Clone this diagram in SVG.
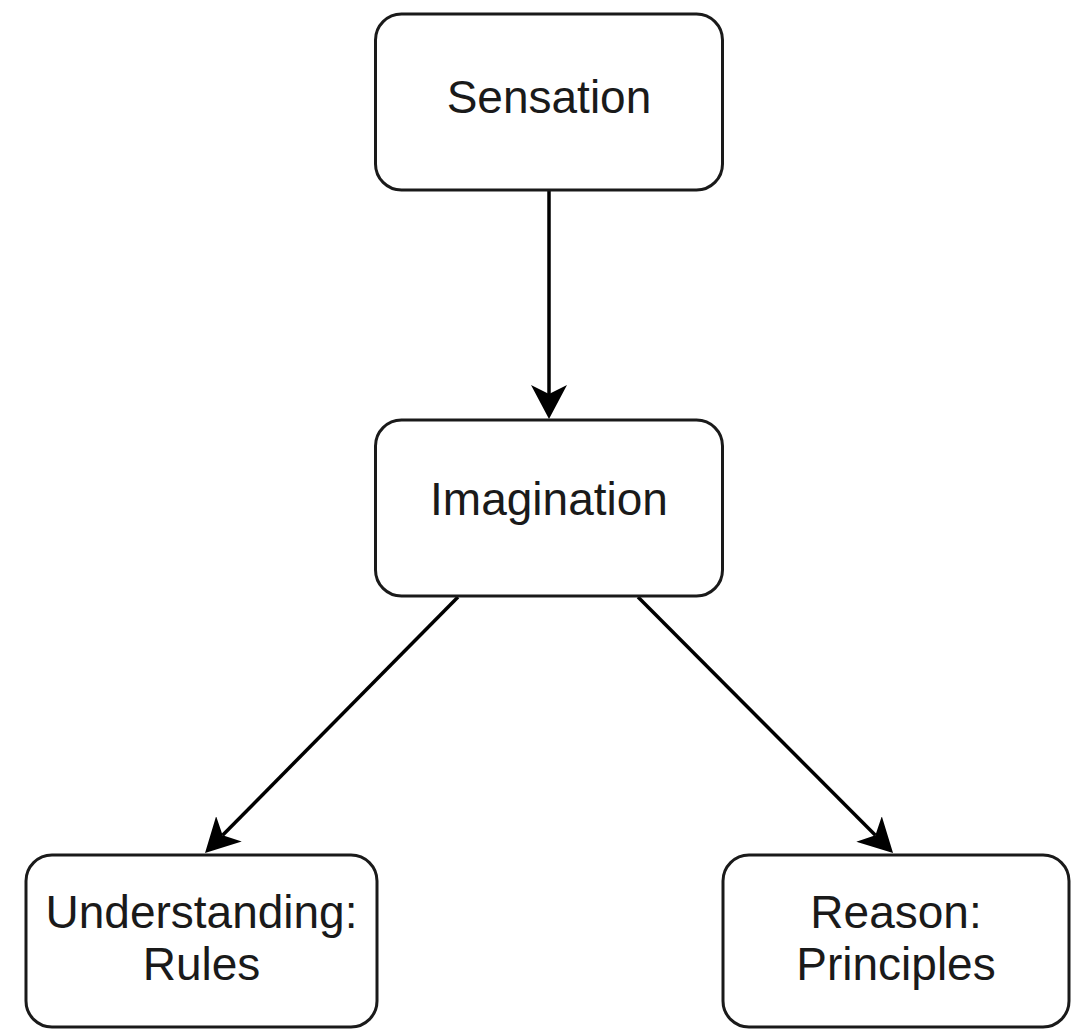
<svg xmlns="http://www.w3.org/2000/svg" width="1072" height="1029" viewBox="0 0 1072 1029">
<style>
.box{fill:#fff;stroke:#1a1a1a;stroke-width:3}
.lbl{font-family:"Liberation Sans",Arial,sans-serif;font-size:46px;fill:#1a1a1a;text-anchor:middle}
.edge{stroke:#000;stroke-width:3.5;fill:none}
</style>
<defs>
<marker id="arr" viewBox="0 0 34 36" refX="9" refY="18" markerWidth="34" markerHeight="36" markerUnits="userSpaceOnUse" orient="auto">
<path d="M0,0 L34,18 L0,36 L9,18 Z" fill="#000"/>
</marker>
</defs>
<rect width="1072" height="1029" fill="#fff"/>
<g id="connectors">
<line class="edge" x1="549" y1="190" x2="549" y2="394" marker-end="url(#arr)"/>
<line class="edge" x1="458" y1="597" x2="222.6" y2="835.2" marker-end="url(#arr)"/>
<line class="edge" x1="638" y1="597" x2="875.4" y2="835.3" marker-end="url(#arr)"/>
</g>
<g id="sensation">
<rect class="box" x="375.5" y="14" width="347" height="176" rx="26"/>
<text class="lbl" x="549" y="113">Sensation</text>
</g>
<g id="imagination">
<rect class="box" x="375.5" y="420" width="347" height="176" rx="26"/>
<text class="lbl" x="549" y="515">Imagination</text>
</g>
<g id="understanding">
<rect class="box" x="26" y="855" width="351" height="172" rx="26"/>
<text class="lbl" x="201.5" y="928">Understanding:</text>
<text class="lbl" x="201.5" y="980">Rules</text>
</g>
<g id="reason">
<rect class="box" x="723" y="855" width="346" height="172" rx="26"/>
<text class="lbl" x="896" y="928">Reason:</text>
<text class="lbl" x="896" y="980">Principles</text>
</g>
</svg>
